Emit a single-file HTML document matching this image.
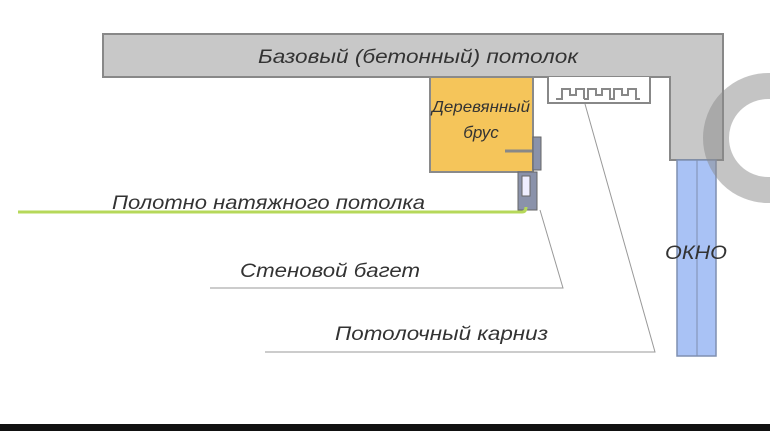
<!DOCTYPE html>
<html><head><meta charset="utf-8"><style>
body{margin:0;width:770px;height:431px;background:#fff;overflow:hidden;}
svg{display:block}
text{font-family:"Liberation Sans",sans-serif;font-style:italic;fill:#333;}
</style></head><body>
<svg width="770" height="431" viewBox="0 0 770 431">
<path d="M103 34 H723 V160 H670 V77 H103 Z" fill="#c8c8c8" stroke="#888" stroke-width="2"/>
<text x="258" y="63" font-size="19" textLength="320" lengthAdjust="spacingAndGlyphs">Базовый (бетонный) потолок</text>
<rect x="677" y="160" width="39" height="196" fill="#a9c2f5" stroke="#7f8fb0" stroke-width="1.5"/>
<line x1="697" y1="160" x2="697" y2="356" stroke="#7f8fb0" stroke-width="1"/>
<circle cx="768" cy="138" r="52" fill="none" stroke="#8a8a8a" stroke-opacity="0.5" stroke-width="26"/>
<text x="665" y="259" font-size="19" font-style="normal" fill="#222" textLength="62" lengthAdjust="spacingAndGlyphs">ОКНО</text>
<rect x="430" y="77" width="103" height="95" fill="#f5c55a" stroke="#8a8a8a" stroke-width="2"/>
<text x="481" y="112" font-size="16" text-anchor="middle" textLength="98" lengthAdjust="spacingAndGlyphs">Деревянный</text>
<text x="481" y="138" font-size="17" text-anchor="middle">брус</text>
<line x1="505" y1="151" x2="538" y2="151" stroke="#888" stroke-width="3"/>
<rect x="533" y="137" width="8" height="33" fill="#8a92aa" stroke="#666" stroke-width="1"/>
<path d="M518 172 H537 V210 H518 Z" fill="#8a92aa" stroke="#666" stroke-width="1"/>
<rect x="522" y="176" width="8" height="20" fill="#eef" stroke="#666" stroke-width="1"/>
<path d="M548 77 V103 H650 V77" fill="#fff" stroke="#888" stroke-width="2"/>
<path d="M556 99 H562 V89 H570 V95 H576 V89 H584 V99 M584 99 H588 V89 H596 V95 H602 V89 H610 V99 H614 V89 H622 V95 H628 V89 H636 V99 H640" fill="none" stroke="#888" stroke-width="2"/>
<path d="M18 212 H522 Q526 212 526 207" fill="none" stroke="#b6d85a" stroke-width="3"/>
<text x="112" y="209" font-size="19" textLength="313" lengthAdjust="spacingAndGlyphs">Полотно натяжного потолка</text>
<polyline points="210,288 563,288 540,210" fill="none" stroke="#999" stroke-width="1"/>
<text x="240" y="277" font-size="19" textLength="180" lengthAdjust="spacingAndGlyphs">Стеновой багет</text>
<polyline points="265,352 655,352 585,104" fill="none" stroke="#999" stroke-width="1"/>
<text x="335" y="340" font-size="19" textLength="213" lengthAdjust="spacingAndGlyphs">Потолочный карниз</text>
<rect x="0" y="424" width="770" height="7" fill="#111"/>
</svg>
</body></html>
